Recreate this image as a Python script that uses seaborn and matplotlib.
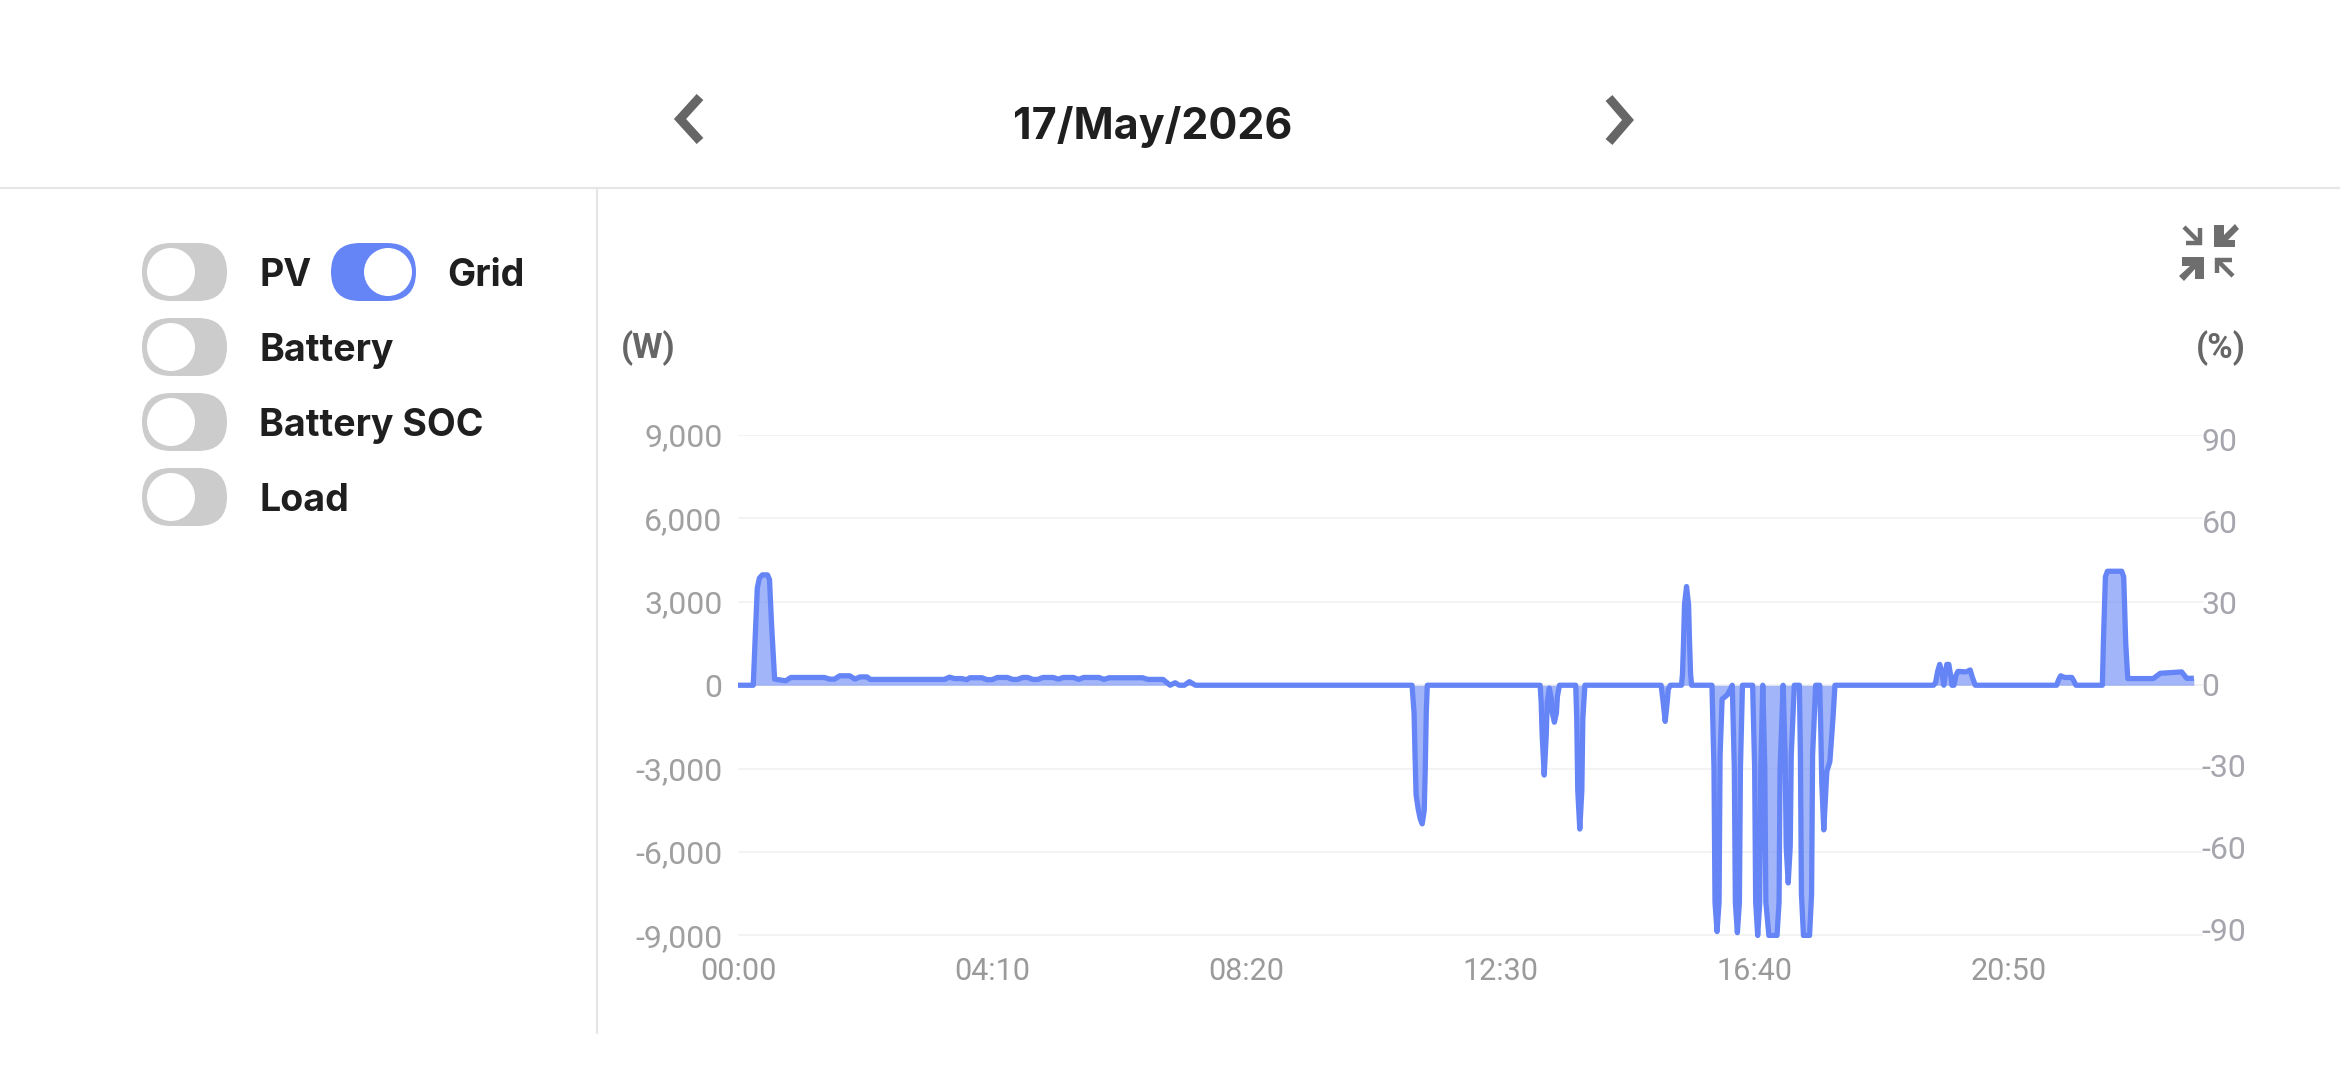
import matplotlib
matplotlib.use("Agg")
import matplotlib.pyplot as plt
from matplotlib.patches import FancyBboxPatch, Circle, Polygon
import pandas as pd
import seaborn as sns

# grid power readings (minute of day, watts)
minutes = [0, 15, 17, 19, 21, 24, 29, 31, 33, 36, 47, 52, 85, 90, 95, 100, 110, 115, 120, 127, 130, 203, 208, 213,
           220, 225, 228, 240, 245, 250, 255, 265, 270, 275, 280, 285, 290, 295, 300, 310, 315, 320, 330,
           335, 340, 355, 360, 365, 398, 403, 418, 425, 430, 434, 439, 444, 450,
           663, 665, 666, 667, 669, 671, 673, 675, 676, 677, 678,
           789, 790, 791, 793, 795, 796, 798, 800, 801, 803, 805, 806, 808,
           824, 825, 826, 828, 830, 831, 833,
           908, 910, 912, 914, 915, 917, 928, 929, 930, 931, 933, 935, 936, 937, 938,
           958, 960, 961, 963, 965, 966, 968, 973, 976, 978, 980, 981, 983, 985, 986, 988,
           998, 1000, 1001, 1003, 1005, 1006, 1008, 1010, 1011, 1014, 1022, 1024, 1025, 1028,
           1030, 1031, 1033, 1035, 1036, 1039,
           1044, 1045, 1046, 1048, 1054, 1056, 1057, 1060, 1064, 1065, 1066, 1068, 1070, 1071, 1074, 1077, 1079,
           1176, 1178, 1180, 1182, 1184, 1186, 1189, 1191, 1193, 1194, 1196, 1198, 1200, 1208, 1212, 1214, 1217,
           1297, 1299, 1301, 1305, 1312, 1314, 1316, 1342, 1343, 1345, 1347, 1361, 1363, 1365, 1367, 1392, 1399, 1420, 1425, 1432]
watts = [0, 0, 1800, 3500, 3850, 3970, 3970, 3800, 2200, 220, 160, 280, 280, 220, 220, 340, 340, 220, 300, 300, 210, 210, 290, 240,
         240, 200, 270, 270, 200, 200, 280, 280, 210, 210, 280, 280, 210, 210, 280, 280, 220, 280, 280,
         210, 280, 280, 210, 270, 270, 210, 210, 0, 90, 0, 0, 130, 0,
         0, -1000, -2600, -3950, -4440, -4800, -4985, -4500, -3000, -1000, 0,
         0, -600, -1800, -3230, -1800, -600, -100, -500, -1000, -1330, -1000, -400, 0,
         0, -1200, -3800, -5170, -3800, -1200, 0,
         0, -600, -1300, -600, -150, 0, 0, 400, 1500, 2900, 3550, 2900, 1500, 400, 0,
         0, -3000, -7800, -8860, -7800, -2500, -500, -350, -150, 0, -3000, -7800, -8900, -7800, -3000, 0,
         0, -3000, -7800, -9000, -7800, -3000, 0, -3000, -7800, -9000, -9000, -7800, -3000, 0,
         -2500, -5800, -7110, -5800, -2500, 0,
         0, -2500, -7500, -9000, -9000, -7500, -2500, 0, 0, -1500, -3500, -5200, -3800, -3100, -2740, -1200, 0,
         0, 100, 500, 750, 500, 0, 750, 750, 300, 0, 0, 350, 500, 480, 550, 300, 0,
         0, 200, 340, 280, 280, 150, 0, 0, 1500, 3900, 4100, 4100, 3900, 1500, 240, 240, 430, 480, 250, 250]

y_ticks = [-9000, -6000, -3000, 0, 3000, 6000, 9000]
y_labels = ["-9,000", "-6,000", "-3,000", "0", "3,000", "6,000", "9,000"]
pct_ticks = [-90, -60, -30, 0, 30, 60, 90]
pct_labels = ["-90", "-60", "-30", "0", "30", "60", "90"]
x_ticks = [0, 250, 500, 750, 1000, 1250]
x_labels = ["00:00", "04:10", "08:20", "12:30", "16:40", "20:50"]
series_rows = [("PV", 142, 272, False, 259), ("Grid", 331, 272, True, 447), ("Battery", 142, 347, False, 259),
               ("Battery SOC", 142, 422, False, 259), ("Load", 142, 497, False, 259)]

BLUE = "#6585F6"
W, H = 2340, 1080
UI_FONT = "Inter"

sns.set_theme(style="white")
plt.rcParams["font.family"] = ["Roboto", "DejaVu Sans"]

fig = plt.figure(figsize=(W / 100, H / 100), dpi=100, facecolor="white")

# page furniture in pixel coordinates
ui = fig.add_axes([0, 0, 1, 1])
ui.set_xlim(0, W)
ui.set_ylim(H, 0)
ui.axis("off")
ui.plot([0, W], [188, 188], color="#E6E6E6", lw=1.6)
ui.plot([597, 597], [188, 1033], color="#E6E6E6", lw=1.6)
ui.text(1153, 127, "17/May/2026", ha="center", va="center", fontsize=31, fontweight="bold",
        family=UI_FONT, color="#1F1F1F")
ui.plot([700, 680, 700], [97, 119, 141], color="#666666", lw=6.5, solid_joinstyle="miter", solid_capstyle="butt")
ui.plot([1609, 1628, 1609], [98, 120, 142], color="#666666", lw=6.5, solid_joinstyle="miter", solid_capstyle="butt")

for name, x0, yc, on, tx in series_rows:
    color = BLUE if on else "#CCCCCC"
    ui.add_patch(FancyBboxPatch((x0, yc - 29), 85, 58, boxstyle="round,pad=0,rounding_size=29",
                                fc=color, ec="none"))
    ui.add_patch(Circle((x0 + (57 if on else 29), yc), 24, fc="white", ec="none"))
    ui.text(tx, yc + 4, name, ha="left", va="center", fontsize=27, fontweight="bold",
            family=UI_FONT, color="#1F1F1F")

ui.text(621, 348, "(W)", ha="left", va="center", fontsize=25, fontweight="bold", color="#666666")
ui.text(2221, 348, "(%)", ha="center", va="center", fontsize=25, fontweight="bold", color="#666666")

# collapse icon
ui.plot([2186, 2200, 2200], [243, 243, 228], color="#6E6E6E", lw=3.2, solid_joinstyle="miter", solid_capstyle="butt")
ui.plot([2184, 2200], [227, 243], color="#6E6E6E", lw=3.2, solid_capstyle="butt")
ui.plot([2217, 2217, 2232], [273, 260, 260], color="#6E6E6E", lw=3.2, solid_joinstyle="miter", solid_capstyle="butt")
ui.plot([2217, 2233], [260, 276], color="#6E6E6E", lw=3.2, solid_capstyle="butt")
ui.add_patch(Polygon([[2214, 225], [2224, 225], [2224, 235], [2235, 224], [2239, 229], [2228, 240],
                      [2235, 240], [2235, 247], [2214, 247]], fc="#6E6E6E", ec="none"))
ui.add_patch(Polygon([[2182, 257], [2204, 257], [2204, 279], [2195, 279], [2195, 269], [2184, 281],
                      [2179, 276], [2190, 266], [2182, 266]], fc="#6E6E6E", ec="none"))

# chart area
y_top, y_bottom = 435.0, 938.0
ax = fig.add_axes([738 / W, 1 - y_bottom / H, (2203 - 738) / W, (y_bottom - y_top) / H])
ax.patch.set_alpha(0)
df = pd.DataFrame({"minute": minutes, "power": watts})
ax.fill_between(df["minute"], df["power"], 0, color=BLUE, alpha=0.6, lw=0)
sns.lineplot(data=df, x="minute", y="power", color=BLUE, lw=3.8, estimator=None, sort=False, ax=ax,
             solid_joinstyle="round", solid_capstyle="butt")
ax.set_xlim(0, 1441)
ax.set_ylim(-9090, 9000)
ax.set_xlabel("")
ax.set_ylabel("")
ax.set_yticks(y_ticks, y_labels)
ax.set_xticks(x_ticks, x_labels)
ax.tick_params(axis="y", length=0, pad=11, labelsize=23, labelcolor="#A0A0A0")
ax.tick_params(axis="x", length=0, pad=14, labelsize=22, labelcolor="#9A9A9A")
ax.grid(axis="y", color="#F3F3F3", lw=1.4)
ax.set_axisbelow(True)
sns.despine(ax=ax, left=True, bottom=True)

right = ax.twinx()
right.set_ylim(-93.2, 91.6)
right.set_yticks(pct_ticks, pct_labels)
right.tick_params(axis="y", length=0, pad=-1, labelsize=23, labelcolor="#A5A5AD")
right.grid(False)
sns.despine(ax=right, left=True, right=True, bottom=True)

fig.savefig("out.png", dpi=100)
